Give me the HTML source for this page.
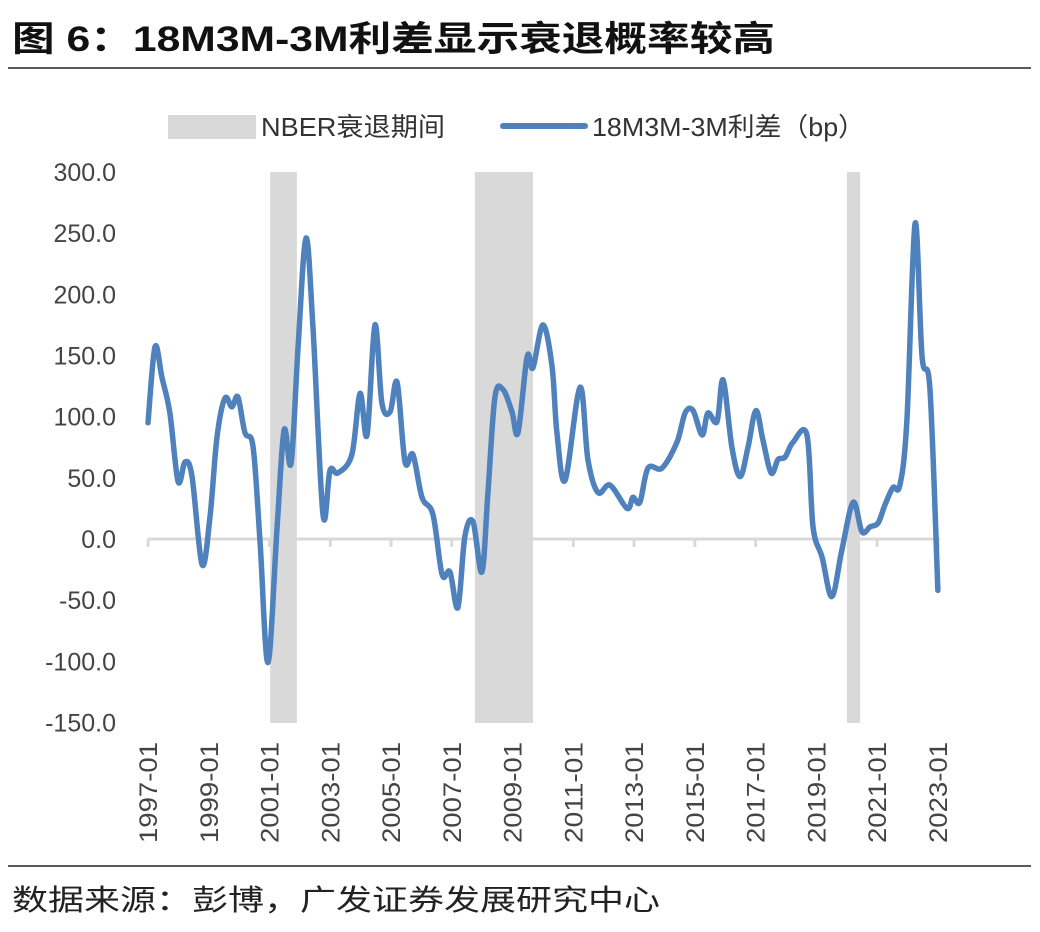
<!DOCTYPE html>
<html><head><meta charset="utf-8">
<style>
body{margin:0;background:#fff;width:1040px;height:927px;overflow:hidden;font-family:"Liberation Sans","Noto Sans CJK SC",sans-serif;}
</style></head>
<body>
<svg width="1040" height="927" xmlns="http://www.w3.org/2000/svg">
<text x="12" y="51" font-size="35" font-weight="bold" fill="#111" textLength="763" lengthAdjust="spacingAndGlyphs" font-family="Liberation Sans, Noto Sans CJK SC, sans-serif">图 6：18M3M-3M利差显示衰退概率较高</text>
<line x1="8" y1="68" x2="1031" y2="68" stroke="#222" stroke-width="1.5"/>
<g>
<rect x="168" y="115" width="88" height="24" fill="#d9d9d9"/>
<text x="261" y="136" font-size="26" fill="#333" textLength="184" lengthAdjust="spacingAndGlyphs">NBER衰退期间</text>
<line x1="503" y1="126" x2="585" y2="126" stroke="#4f81bd" stroke-width="6" stroke-linecap="round"/>
<text x="592" y="136" font-size="26" fill="#333" textLength="273" lengthAdjust="spacingAndGlyphs">18M3M-3M利差（bp）</text>
</g>
<g id="plot"></g>
<line x1="8" y1="866" x2="1031" y2="866" stroke="#222" stroke-width="1.5"/>
<text x="12" y="910" font-size="29" fill="#222" textLength="648" lengthAdjust="spacingAndGlyphs">数据来源：彭博，广发证券发展研究中心</text>
</svg>
<script>
const years=[1997.00,1997.23,1997.46,1997.72,1997.99,1998.22,1998.45,1998.78,1999.04,1999.27,1999.53,1999.76,1999.96,2000.19,2000.46,2000.69,2000.95,2001.25,2001.48,2001.71,2001.94,2002.20,2002.43,2002.76,2002.99,2003.25,2003.71,2003.98,2004.21,2004.47,2004.70,2004.97,2005.20,2005.46,2005.72,2006.02,2006.38,2006.68,2006.94,2007.20,2007.43,2007.70,2007.99,2008.19,2008.42,2008.69,2008.98,2009.18,2009.48,2009.67,2010.00,2010.30,2010.46,2010.73,2011.22,2011.48,2011.81,2012.21,2012.77,2012.96,2013.19,2013.46,2013.92,2014.41,2014.68,2014.94,2015.24,2015.43,2015.73,2015.93,2016.22,2016.49,2016.75,2017.01,2017.24,2017.51,2017.74,2017.97,2018.23,2018.69,2018.89,2019.19,2019.51,2019.84,2020.21,2020.50,2020.77,2021.03,2021.26,2021.52,2021.75,2021.98,2022.25,2022.48,2022.74,2023.00];
const spread=[95,157,132,103,47,63,51,-21,18,83,115,108,116,87,75,-3,-101,10,89,62,157,246,173,20,56,54,69,119,85,175,111,104,128,63,69,34,20,-29,-27,-56,2,14,-27,38,116,122,104,87,149,140,175,141,87,48,124,65,38,44,25,34,30,58,58,79,103,105,85,103,96,130,75,51,75,105,81,54,65,67,79,85,10,-15,-47,-9,30,6,10,13,28,42,44,97,258,149,122,-42];
const recessions=[[2001.02,2001.90],[2007.76,2009.67],[2020.01,2020.44]];
const yTicks=[300,250,200,150,100,50,0,-50,-100,-150];
const xTickYears=[1997,1999,2001,2003,2005,2007,2009,2011,2013,2015,2017,2019,2021,2023];

const NS="http://www.w3.org/2000/svg";
const X=y=>148+(y-1997)*30.38;
const Y=v=>539-v*1.2233;
const plot=document.getElementById('plot');
function mk(tag,attrs){const e=document.createElementNS(NS,tag);for(const k in attrs)e.setAttribute(k,attrs[k]);plot.appendChild(e);return e;}
recessions.forEach(r=>{
  const e=mk('rect',{x:X(r[0]),y:172,width:X(r[1])-X(r[0]),height:551,fill:'#d9d9d9'});
  
  
});
yTicks.forEach(t=>{
  const e=mk('text',{x:116,y:Y(t)+9,'font-size':25,fill:'#444','text-anchor':'end'});
  e.textContent=t.toFixed(1);
  
  
});
const ax=mk('line',{x1:X(1997),y1:Y(0),x2:X(2023)+2,y2:Y(0),stroke:'#d9d9d9','stroke-width':3});


xTickYears.forEach(yr=>{
  const t=mk('line',{x1:X(yr),y1:Y(0),x2:X(yr),y2:Y(0)+8,stroke:'#d9d9d9','stroke-width':3});
  
  
  const e=mk('text',{x:0,y:0,'font-size':25,fill:'#444','text-anchor':'end',transform:`translate(${X(yr)+9},742) rotate(-90)`,textLength:101,lengthAdjust:'spacingAndGlyphs'});
  e.textContent=yr+'-01';
  
  
});
const pts=years.map((y,i)=>[X(y),Y(spread[i])]);
let d='M'+pts[0][0]+','+pts[0][1];
for(let i=0;i<pts.length-1;i++){
  const p0=pts[Math.max(0,i-1)],p1=pts[i],p2=pts[i+1],p3=pts[Math.min(pts.length-1,i+2)];
  const c1=[p1[0]+(p2[0]-p0[0])/6,p1[1]+(p2[1]-p0[1])/6];
  const c2=[p2[0]-(p3[0]-p1[0])/6,p2[1]-(p3[1]-p1[1])/6];
  d+=` C${c1[0]},${c1[1]} ${c2[0]},${c2[1]} ${p2[0]},${p2[1]}`;
}
const ln=mk('path',{d:d,fill:'none',stroke:'#4f81bd','stroke-width':5.5,'stroke-linejoin':'round','stroke-linecap':'round'});


</script>
</body></html>
